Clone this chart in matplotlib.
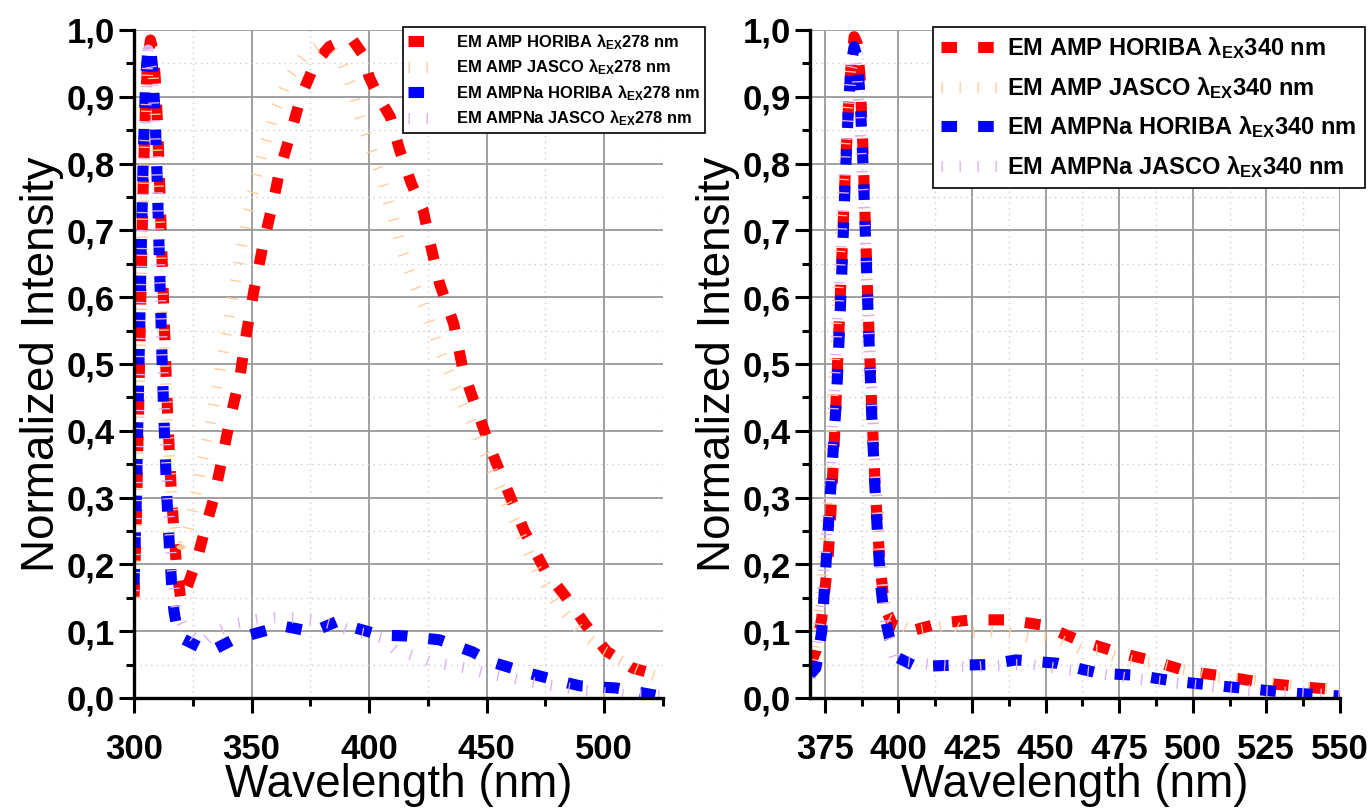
import numpy as np
import matplotlib
matplotlib.use("Agg")
import matplotlib.pyplot as plt
from matplotlib.ticker import MultipleLocator, FuncFormatter

plt.rcParams['font.family'] = ['Liberation Sans', 'DejaVu Sans']
plt.rcParams['font.weight'] = 'bold'
plt.rcParams['mathtext.fontset'] = 'custom'
plt.rcParams['mathtext.bf'] = 'Liberation Sans:bold'
plt.rcParams['mathtext.rm'] = 'Liberation Sans:bold'
plt.rcParams['mathtext.it'] = 'Liberation Sans:bold'

# ---- excitation 278 nm ----
amp_horiba_278_nm = [300, 301, 302, 303, 304, 305, 306, 307, 308, 309, 310, 311, 312, 313, 314, 315, 316,
                     318, 320, 323, 327, 330, 334, 337, 341, 345, 348, 351, 355, 359, 362, 367, 371, 377,
                     383, 389, 393, 397, 400, 404, 409, 413, 418, 423, 426, 430, 436, 440, 447, 452, 459,
                     466, 475, 484, 492, 501, 512, 522, 525]
amp_horiba_278 = [0.15, 0.27, 0.44, 0.62, 0.78, 0.90, 0.96, 0.985, 0.97, 0.93, 0.86, 0.76, 0.65, 0.55, 0.45,
                  0.37, 0.30, 0.20, 0.145, 0.17, 0.21, 0.25, 0.30, 0.35, 0.42, 0.48, 0.55, 0.61, 0.68, 0.74,
                  0.79, 0.85, 0.90, 0.95, 0.975, 0.985, 0.985, 0.965, 0.93, 0.90, 0.87, 0.82, 0.77, 0.73,
                  0.68, 0.62, 0.56, 0.49, 0.42, 0.37, 0.31, 0.25, 0.19, 0.15, 0.11, 0.07, 0.045, 0.035, 0.03]

amp_jasco_278_nm = [300, 302, 304, 306, 307, 308, 310, 312, 314, 316, 318, 320, 323, 326, 330, 334, 338,
                    342, 346, 350, 355, 360, 366, 372, 378, 384, 388, 392, 396, 400, 405, 410, 414, 418,
                    425, 430, 435, 440, 445, 450, 455, 460, 465, 470, 475, 480, 490, 500, 510, 520, 525]
amp_jasco_278 = [0.15, 0.40, 0.75, 0.95, 0.97, 0.95, 0.80, 0.60, 0.42, 0.30, 0.24, 0.23, 0.25, 0.30, 0.37,
                 0.44, 0.52, 0.60, 0.68, 0.75, 0.82, 0.88, 0.93, 0.96, 0.975, 0.97, 0.955, 0.92, 0.87,
                 0.83, 0.78, 0.72, 0.67, 0.63, 0.57, 0.52, 0.48, 0.44, 0.40, 0.36, 0.32, 0.28, 0.24, 0.20,
                 0.17, 0.14, 0.10, 0.07, 0.05, 0.035, 0.03]

ampna_horiba_278_nm = [300, 301, 302, 303, 304, 305, 306, 307, 308, 309, 310, 311, 312, 313, 314, 315, 316,
                       317, 318, 320, 332, 342, 354, 363, 376, 386, 393, 405, 415, 430, 444, 452, 466, 479,
                       490, 505, 522, 525]
ampna_horiba_278 = [0.17, 0.30, 0.48, 0.66, 0.82, 0.93, 0.975, 0.975, 0.94, 0.87, 0.76, 0.63, 0.50, 0.39,
                    0.30, 0.23, 0.17, 0.13, 0.11, 0.09, 0.069, 0.087, 0.099, 0.108, 0.099, 0.114, 0.106,
                    0.094, 0.093, 0.087, 0.069, 0.054, 0.039, 0.027, 0.018, 0.015, 0.004, 0.003]

ampna_jasco_278_nm = [300, 302, 304, 306, 308, 310, 312, 314, 316, 318, 322, 329, 335, 344, 352, 360, 368,
                      377, 385, 393, 400, 405, 411, 418, 426, 433, 441, 448, 456, 463, 471, 479, 490, 500,
                      510, 525]
ampna_jasco_278 = [0.16, 0.42, 0.78, 0.97, 0.93, 0.75, 0.52, 0.33, 0.20, 0.13, 0.10, 0.082, 0.10, 0.112,
                   0.117, 0.12, 0.12, 0.117, 0.11, 0.10, 0.095, 0.09, 0.072, 0.064, 0.054, 0.05, 0.045,
                   0.039, 0.033, 0.028, 0.022, 0.018, 0.012, 0.008, 0.005, 0.003]

# ---- excitation 340 nm ----
amp_horiba_340_nm = [370, 372, 374, 376, 377, 378, 379, 380, 381, 382, 383, 384, 385, 386, 387, 388, 389,
                     390, 391, 392, 393, 394, 395, 396, 398, 404, 414, 425, 437, 449, 461, 474, 487, 498,
                     510, 525, 539, 550]
amp_horiba_340 = [0.05, 0.07, 0.12, 0.20, 0.27, 0.36, 0.46, 0.57, 0.68, 0.79, 0.88, 0.95, 0.99, 0.98,
                  0.93, 0.82, 0.68, 0.55, 0.43, 0.33, 0.25, 0.19, 0.15, 0.13, 0.11, 0.10, 0.112, 0.117,
                  0.117, 0.109, 0.087, 0.069, 0.055, 0.040, 0.033, 0.022, 0.016, 0.012]

amp_jasco_340_nm = [370, 372, 374, 376, 378, 380, 382, 384, 385, 386, 388, 390, 392, 394, 396, 405, 418,
                    424, 431, 438, 445, 450, 455, 462, 468, 475, 481, 488, 494, 501, 508, 521, 535, 550]
amp_jasco_340 = [0.05, 0.09, 0.17, 0.30, 0.47, 0.66, 0.84, 0.95, 0.97, 0.94, 0.78, 0.56, 0.36, 0.22, 0.12,
                 0.10, 0.11, 0.097, 0.10, 0.097, 0.09, 0.09, 0.087, 0.072, 0.072, 0.06, 0.054, 0.052,
                 0.045, 0.039, 0.031, 0.027, 0.019, 0.012]

ampna_horiba_340_nm = [370, 372, 374, 375, 376, 377, 378, 379, 380, 381, 382, 383, 384, 385, 386, 387, 388,
                       389, 390, 391, 392, 393, 394, 395, 397, 400, 406, 418, 430, 440, 454, 468, 481, 494,
                       507, 521, 535, 550]
ampna_horiba_340 = [0.035, 0.045, 0.10, 0.17, 0.24, 0.31, 0.38, 0.45, 0.55, 0.66, 0.78, 0.88, 0.95, 0.975,
                    0.96, 0.90, 0.80, 0.67, 0.54, 0.42, 0.32, 0.24, 0.17, 0.13, 0.09, 0.06, 0.047, 0.049,
                    0.05, 0.057, 0.052, 0.037, 0.034, 0.025, 0.019, 0.013, 0.007, 0.003]

ampna_jasco_340_nm = [370, 372, 374, 376, 378, 380, 382, 384, 385, 386, 388, 390, 392, 394, 396, 399, 411,
                      425, 437, 445, 458, 465, 478, 491, 502, 510, 517, 530, 543, 550]
ampna_jasco_340 = [0.03, 0.07, 0.15, 0.28, 0.44, 0.63, 0.82, 0.94, 0.96, 0.93, 0.76, 0.55, 0.35, 0.20,
                   0.10, 0.057, 0.05, 0.046, 0.05, 0.05, 0.042, 0.039, 0.03, 0.024, 0.019, 0.015, 0.012,
                   0.009, 0.006, 0.004]

y_ticks = [0.0, 0.1, 0.2, 0.3, 0.4, 0.5, 0.6, 0.7, 0.8, 0.9, 1.0]

RED = '#ff0000'
BLUE = '#0000ff'
ORANGE = '#ffcc99'
PURPLE = '#dcb0f0'
LW = 8
HORIBA_DASH = (1.4, 1.9)
JASCO_DASH = (0.12, 1.5)


def comma(v, pos):
    return f"{v:.1f}".replace('.', ',')


def style_axes(ax, xlim, xmajor, xminor):
    ax.set_xlim(*xlim)
    ax.set_ylim(0, 1.0)
    ax.set_yticks(y_ticks)
    ax.xaxis.set_major_locator(MultipleLocator(xmajor))
    ax.xaxis.set_minor_locator(MultipleLocator(xminor))
    ax.yaxis.set_minor_locator(MultipleLocator(0.05))
    ax.yaxis.set_major_formatter(FuncFormatter(comma))
    for s in ['top', 'right']:
        ax.spines[s].set_visible(False)
    for s in ['left', 'bottom']:
        ax.spines[s].set_linewidth(2.4)
    ax.tick_params(which='major', direction='out', length=11, width=2.2, labelsize=25)
    ax.tick_params(which='minor', direction='out', length=6, width=2.2)
    ax.tick_params(axis='x', which='major', pad=14)
    ax.tick_params(axis='y', which='major', pad=3)
    ax.set_axisbelow(True)
    ax.grid(which='major', color='#999999', lw=1.3, ls='-')
    ax.grid(which='minor', color='#cccccc', lw=1.0, ls=(0, (1, 3)))
    lab = dict(fontsize=33, fontweight='normal', family=['Liberation Sans', 'DejaVu Sans'])
    ax.set_xlabel('Wavelength (nm)', labelpad=-2, **lab)
    ax.set_ylabel('Normalized Intensity', labelpad=2, **lab)


def draw(ax, data, exc):
    (x1, y1), (x2, y2), (x3, y3), (x4, y4) = data
    l1, = ax.plot(x1, y1, color=RED, lw=LW, dashes=HORIBA_DASH, dash_capstyle='butt',
                  label=f'EM AMP HORIBA λ$_{{\\mathbf{{EX}}}}${exc} nm')
    l2, = ax.plot(x2, y2, color=ORANGE, lw=LW, dashes=JASCO_DASH, dash_capstyle='butt',
                  label=f'EM AMP JASCO λ$_{{\\mathbf{{EX}}}}${exc} nm')
    l3, = ax.plot(x3, y3, color=BLUE, lw=LW, dashes=HORIBA_DASH, dash_capstyle='butt',
                  label=f'EM AMPNa HORIBA λ$_{{\\mathbf{{EX}}}}${exc} nm')
    l4, = ax.plot(x4, y4, color=PURPLE, lw=LW, dashes=JASCO_DASH, dash_capstyle='butt',
                  label=f'EM AMPNa JASCO λ$_{{\\mathbf{{EX}}}}${exc} nm')
    return [l1, l2, l3, l4]


fig = plt.figure(figsize=(13.71, 8.10), dpi=100)
ax1 = fig.add_axes([134 / 1371, 112 / 810, 529 / 1371, 668 / 810])
ax2 = fig.add_axes([810 / 1371, 112 / 810, 530 / 1371, 668 / 810])

h1 = draw(ax1, [(amp_horiba_278_nm, amp_horiba_278), (amp_jasco_278_nm, amp_jasco_278),
                (ampna_horiba_278_nm, ampna_horiba_278), (ampna_jasco_278_nm, ampna_jasco_278)], 278)
h2 = draw(ax2, [(amp_horiba_340_nm, amp_horiba_340), (amp_jasco_340_nm, amp_jasco_340),
                (ampna_horiba_340_nm, ampna_horiba_340), (ampna_jasco_340_nm, ampna_jasco_340)], 340)

style_axes(ax1, (300, 525), 50, 25)
style_axes(ax2, (370, 550), 25, 12.5)

leg1 = fig.legend(handles=h1, loc='upper left', bbox_to_anchor=(403 / 1371, 1 - 27 / 810),
                  fontsize=11.9, handlelength=1.4, handletextpad=1.5, labelspacing=0.35,
                  borderaxespad=0, borderpad=0.3, fancybox=False, framealpha=1, edgecolor='black')
leg1.get_frame().set_linewidth(1.2)
leg2 = fig.legend(handles=h2, loc='upper left', bbox_to_anchor=(933 / 1371, 1 - 27 / 810),
                  fontsize=17, handlelength=2.4, handletextpad=0.4, labelspacing=0.58,
                  borderaxespad=0, borderpad=0.35, fancybox=False, framealpha=1, edgecolor='black')
leg2.get_frame().set_linewidth(1.2)

fig.savefig('out.png', dpi=100)
